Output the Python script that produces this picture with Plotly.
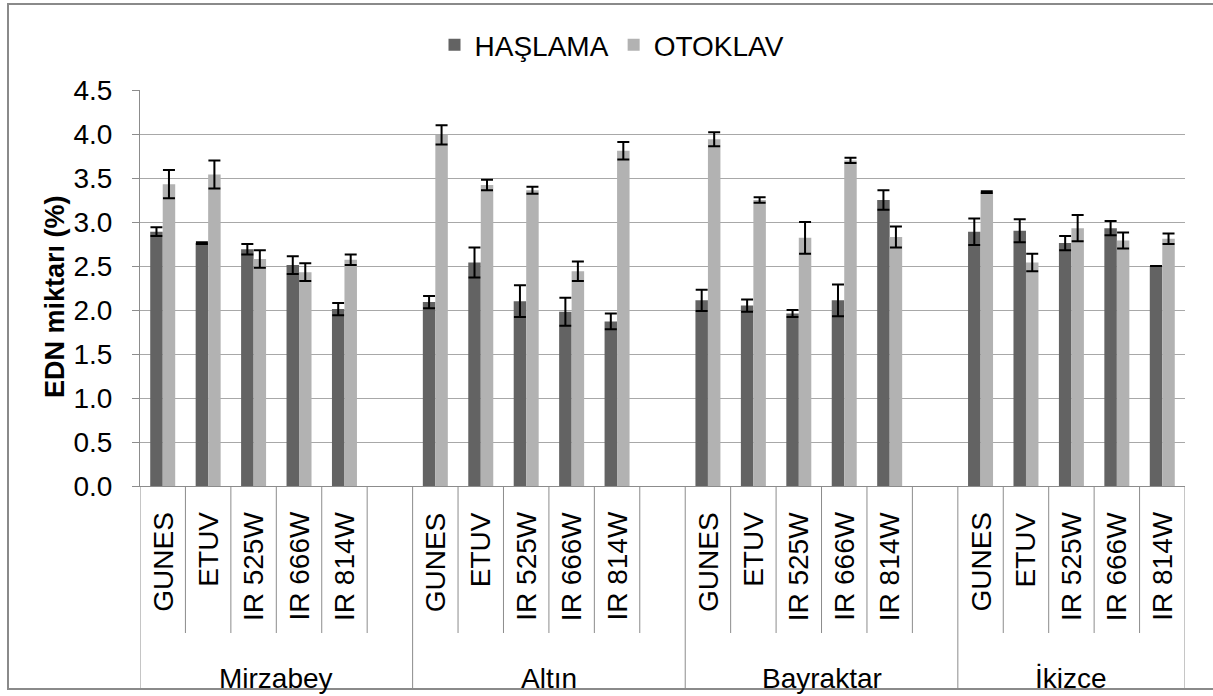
import plotly.graph_objects as go

# ---------------- data ----------------
groups = ["Mirzabey", "Altın", "Bayraktar", "İkizce"]
treatments = ["GUNES", "ETUV", "IR 525W", "IR 666W", "IR 814W"]
series_names = ["HAŞLAMA", "OTOKLAV"]

haslama = [2.89, 2.76, 2.69, 2.51, 2.01,
           2.09, 2.54, 2.10, 1.98, 1.87,
           2.11, 2.05, 1.96, 2.11, 3.25,
           2.89, 2.90, 2.76, 2.93, 2.50]
haslama_err = [0.05, 0.01, 0.06, 0.10, 0.07,
               0.07, 0.17, 0.18, 0.16, 0.09,
               0.12, 0.07, 0.04, 0.18, 0.11,
               0.15, 0.13, 0.08, 0.08, 0.00]
otoklav = [3.43, 3.54, 2.58, 2.43, 2.57,
           3.99, 3.42, 3.36, 2.44, 3.81,
           3.94, 3.25, 2.82, 3.70, 2.83,
           3.34, 2.54, 2.93, 2.79, 2.81]
otoklav_err = [0.16, 0.16, 0.10, 0.10, 0.06,
               0.11, 0.06, 0.04, 0.11, 0.10,
               0.08, 0.03, 0.18, 0.03, 0.12,
               0.01, 0.10, 0.15, 0.09, 0.06]

y_ticks = [0.0, 0.5, 1.0, 1.5, 2.0, 2.5, 3.0, 3.5, 4.0, 4.5]
y_title = "EDN miktarı (%)"

# ---------------- styling ----------------
FONT = "Liberation Sans, Arial, sans-serif"
DARK = "#636363"
LIGHT = "#b2b2b2"
GRID = "#a8a8a8"
AXIS = "#8c8c8c"

W, H = 1213, 696
L, R, T, B = 140, 28, 90, 210
plot_h = H - T - B
plot_w = W - L - R


def py(px):
    """pixel y -> paper y"""
    return (H - B - px) / plot_h


def pxx(px):
    """pixel x -> paper x"""
    return (px - L) / plot_w


# category list with blank spacer slots between groups
cats = []
group_start = []
for gi, g in enumerate(groups):
    group_start.append(len(cats))
    for t in treatments:
        cats.append(f"{g}|{t}")
    if gi < len(groups) - 1:
        cats.append(" " * (gi + 1))

x_keys = [f"{g}|{t}" for g in groups for t in treatments]

fig = go.Figure()
fig.add_trace(go.Bar(
    name=series_names[0], x=x_keys, y=haslama,
    marker=dict(color=DARK, line=dict(width=0)),
    error_y=dict(type="data", array=haslama_err, color="black", thickness=2, width=6),
))
fig.add_trace(go.Bar(
    name=series_names[1], x=x_keys, y=otoklav,
    marker=dict(color=LIGHT, line=dict(width=0)),
    error_y=dict(type="data", array=otoklav_err, color="black", thickness=2, width=6),
))

shapes = []
annotations = []
n = len(cats)
y_short = py(633)
y_full = py(689)

for gi, g in enumerate(groups):
    s = group_start[gi]
    e = s + len(treatments) + (1 if gi < len(groups) - 1 else 0)
    shapes.append(dict(type="line", xref="x", yref="paper", x0=s - 0.5, x1=s - 0.5,
                       y0=0, y1=y_full, line=dict(color=AXIS, width=1)))
    for k, t in enumerate(treatments):
        idx = s + k
        last = (gi == len(groups) - 1 and k == len(treatments) - 1)
        shapes.append(dict(type="line", xref="x", yref="paper", x0=idx + 0.5, x1=idx + 0.5,
                           y0=0, y1=(y_full if last else y_short),
                           line=dict(color=AXIS, width=1)))
        annotations.append(dict(x=f"{g}|{t}", xref="x", y=py(510), yref="paper",
                                text=t, textangle=-90, showarrow=False,
                                xanchor="center", yanchor="top",
                                font=dict(family=FONT, size=28, color="black")))
    annotations.append(dict(x=(s - 0.5 + e - 0.5) / 2, xref="x", y=py(678), yref="paper",
                            text=g, showarrow=False, xanchor="center", yanchor="middle",
                            font=dict(family=FONT, size=28, color="black")))

annotations.append(dict(x=pxx(55), xref="paper", y=py(297), yref="paper",
                        text=f"<b>{y_title}</b>", textangle=-90, showarrow=False,
                        xanchor="center", yanchor="middle",
                        font=dict(family=FONT, size=27, color="black")))

shapes.append(dict(type="rect", xref="paper", yref="paper",
                   x0=pxx(8), x1=pxx(1240), y0=py(689), y1=py(4),
                   line=dict(color="#8a8a8a", width=2), layer="above"))

fig.update_layout(
    width=W, height=H, autosize=False,
    margin=dict(l=L, r=R, t=T, b=B, pad=0),
    paper_bgcolor="white", plot_bgcolor="white",
    barmode="group", bargap=0.45, bargroupgap=0.0,
    font=dict(family=FONT, size=28, color="black"),
    showlegend=True,
    legend=dict(orientation="h", x=pxx(612), xanchor="center", y=py(45), yanchor="middle",
                font=dict(family=FONT, size=28, color="black"),
                bgcolor="rgba(0,0,0,0)", itemwidth=30, traceorder="normal"),
    xaxis=dict(type="category", categoryorder="array", categoryarray=cats,
               range=[-0.5, n - 0.5], showticklabels=False, ticks="",
               showgrid=False, zeroline=False, showline=True, linecolor=AXIS, linewidth=1,
               fixedrange=True),
    yaxis=dict(range=[0, 4.5], tickmode="array", tickvals=y_ticks,
               ticktext=[f"{v:.1f}" for v in y_ticks],
               showgrid=True, gridcolor=GRID, gridwidth=1, zeroline=False,
               showline=True, linecolor=AXIS, linewidth=1,
               ticks="outside", ticklen=7, tickcolor=AXIS, tickwidth=1,
               ticklabelstandoff=14,
               tickfont=dict(family=FONT, size=28, color="black"), fixedrange=True),
    shapes=shapes,
    annotations=annotations,
)

fig.write_html(
    "out.html",
    config={"displayModeBar": False},
    post_script="document.body.style.margin='0';document.body.style.overflow='hidden';",
)
